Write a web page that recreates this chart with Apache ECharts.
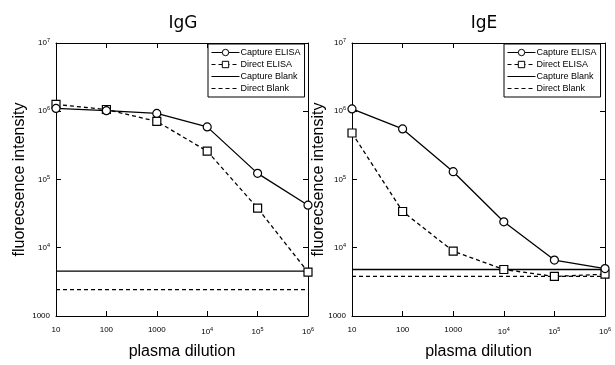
<!DOCTYPE html>
<html>
<head>
<meta charset="utf-8">
<script src="https://cdn.jsdelivr.net/npm/echarts@6/dist/echarts.min.js"></script>
<style>
  html, body { margin: 0; padding: 0; background: #fff; }
  #chart { width: 615px; height: 365px; }
</style>
</head>
<body>
<div id="chart"></div>
<script>
// plasma dilutions (x)
const dilutions = [10, 100, 1000, 1e4, 1e5, 1e6];

// IgG panel
const iggCaptureElisa = [1.1e6, 1.02e6, 9.3e5, 5.9e5, 1.23e5, 4.2e4];
const iggDirectElisa = [1.26e6, 1.06e6, 7.1e5, 2.6e5, 3.8e4, 4.4e3];
const iggCaptureBlank = 4550;
const iggDirectBlank = 2440;

// IgE panel
const igeCaptureElisa = [1.08e6, 5.5e5, 1.3e5, 2.4e4, 6.6e3, 4.95e3];
const igeDirectElisa = [4.8e5, 3.4e4, 8.9e3, 4.8e3, 3.8e3, 4.1e3];
const igeCaptureBlank = 4800;
const igeDirectBlank = 3800;

const titles = ["IgG", "IgE"];
const seriesNames = ["Capture ELISA", "Direct ELISA", "Capture Blank", "Direct Blank"];

const font = '"Liberation Sans", Arial, sans-serif';
const pairs = (ys) => dilutions.map((x, i) => [x, ys[i]]);
const flat = (v) => [[dilutions[0], v], [dilutions[dilutions.length - 1], v]];

const rich = {
  b: { fontSize: 8, fontFamily: font, color: "#000" },
  sup: { fontSize: 5.5, fontFamily: font, color: "#000", padding: [0, 0, 5, 0] },
};
const powLabel = (v) => {
  if (v <= 1000) return "{b|" + v + "}";
  return "{b|10}{sup|" + Math.round(Math.log10(v)) + "}";
};

const grids = [
  { left: 56, right: 307, top: 43, bottom: 43 },
  { left: 352, right: 10, top: 43, bottom: 40 },
];

const chart = echarts.init(document.getElementById("chart"), null, { renderer: "canvas" });

const xAxis = [];
const yAxis = [];
const series = [];
const legend = [];

grids.forEach((g, gi) => {
  const tick = { show: true, inside: true, length: 5, lineStyle: { color: "#000" } };
  const line = { show: true, lineStyle: { color: "#000", width: 1 } };
  xAxis.push({
    gridIndex: gi, type: "log", logBase: 10, min: 10, max: 1e6,
    position: "bottom",
    name: "plasma dilution", nameLocation: "middle", nameGap: 28,
    nameMoveOverlap: false,
    nameTextStyle: { fontFamily: font, fontSize: 16, color: "#000" },
    axisLine: line, axisTick: tick, splitLine: { show: false },
    axisLabel: { formatter: powLabel, rich: rich, margin: 10 },
  });
  xAxis.push({
    gridIndex: gi, type: "log", logBase: 10, min: 10, max: 1e6,
    position: "top", axisLine: line, axisTick: tick,
    axisLabel: { show: false }, splitLine: { show: false },
  });
  yAxis.push({
    gridIndex: gi, type: "log", logBase: 10, min: 1000, max: 1e7,
    position: "left",
    name: "fluorecsence intensity", nameLocation: "middle", nameGap: gi === 0 ? 28 : 25,
    nameMoveOverlap: false,
    nameTextStyle: { fontFamily: font, fontSize: 16, color: "#000" },
    axisLine: line, axisTick: tick, splitLine: { show: false },
    axisLabel: { formatter: powLabel, rich: rich, margin: 6 },
  });
  yAxis.push({
    gridIndex: gi, type: "log", logBase: 10, min: 1000, max: 1e7,
    position: "right", axisLine: line, axisTick: tick,
    axisLabel: { show: false }, splitLine: { show: false },
  });

  const data = gi === 0
    ? [iggCaptureElisa, iggDirectElisa, iggCaptureBlank, iggDirectBlank]
    : [igeCaptureElisa, igeDirectElisa, igeCaptureBlank, igeDirectBlank];
  const xi = gi * 2;
  const yi = gi * 2;
  // blank lines: no visible marker, also in the legend
  const hidden = { color: "rgba(0,0,0,0)", borderColor: "rgba(0,0,0,0)", borderWidth: 0 };
  series.push(
    {
      name: seriesNames[0], type: "line", xAxisIndex: xi, yAxisIndex: yi,
      data: pairs(data[0]), symbol: "circle", symbolSize: 8,
      lineStyle: { color: "#000", width: 1.3 },
      itemStyle: { color: "#fff", borderColor: "#000", borderWidth: 1.2 },
      z: 5,
    },
    {
      name: seriesNames[1], type: "line", xAxisIndex: xi, yAxisIndex: yi,
      data: pairs(data[1]), symbol: "rect", symbolSize: 8,
      lineStyle: { color: "#000", width: 1.3, type: [4, 3] },
      itemStyle: { color: "#fff", borderColor: "#000", borderWidth: 1.2 },
      z: 4,
    },
    {
      name: seriesNames[2], type: "line", xAxisIndex: xi, yAxisIndex: yi,
      data: flat(data[2]), symbol: "circle", symbolSize: 0, showSymbol: false,
      lineStyle: { color: "#000", width: 1.3 },
      itemStyle: hidden,
    },
    {
      name: seriesNames[3], type: "line", xAxisIndex: xi, yAxisIndex: yi,
      data: flat(data[3]), symbol: "circle", symbolSize: 0, showSymbol: false,
      lineStyle: { color: "#000", width: 1.3, type: [4, 3] },
      itemStyle: hidden,
    }
  );

  legend.push({
    data: seriesNames,
    orient: "vertical",
    left: gi === 0 ? 208 : 504,
    top: 44,
    itemWidth: 28, itemHeight: 8, itemGap: 3,
    padding: [4, 4, 4, 3],
    borderColor: "#000", borderWidth: 1,
    backgroundColor: "#fff",
    selectedMode: false,
    itemStyle: { borderWidth: 1 },
    lineStyle: { width: 1 },
    textStyle: { fontFamily: font, fontSize: 9, color: "#000", padding: [0, 0, 0, -4] },
  });
});

const option = {
  animation: false,
  backgroundColor: "#fff",
  title: titles.map((t, i) => ({
    text: t,
    left: i === 0 ? 178 : 479,
    top: 10,
    textAlign: "center",
    textStyle: { fontFamily: '"DejaVu Sans", sans-serif', fontSize: 17, fontWeight: "normal", color: "#000" },
  })),
  grid: grids,
  legend: legend,
  xAxis: xAxis,
  yAxis: yAxis,
  series: series,
};

chart.setOption(option);
</script>
</body>
</html>
